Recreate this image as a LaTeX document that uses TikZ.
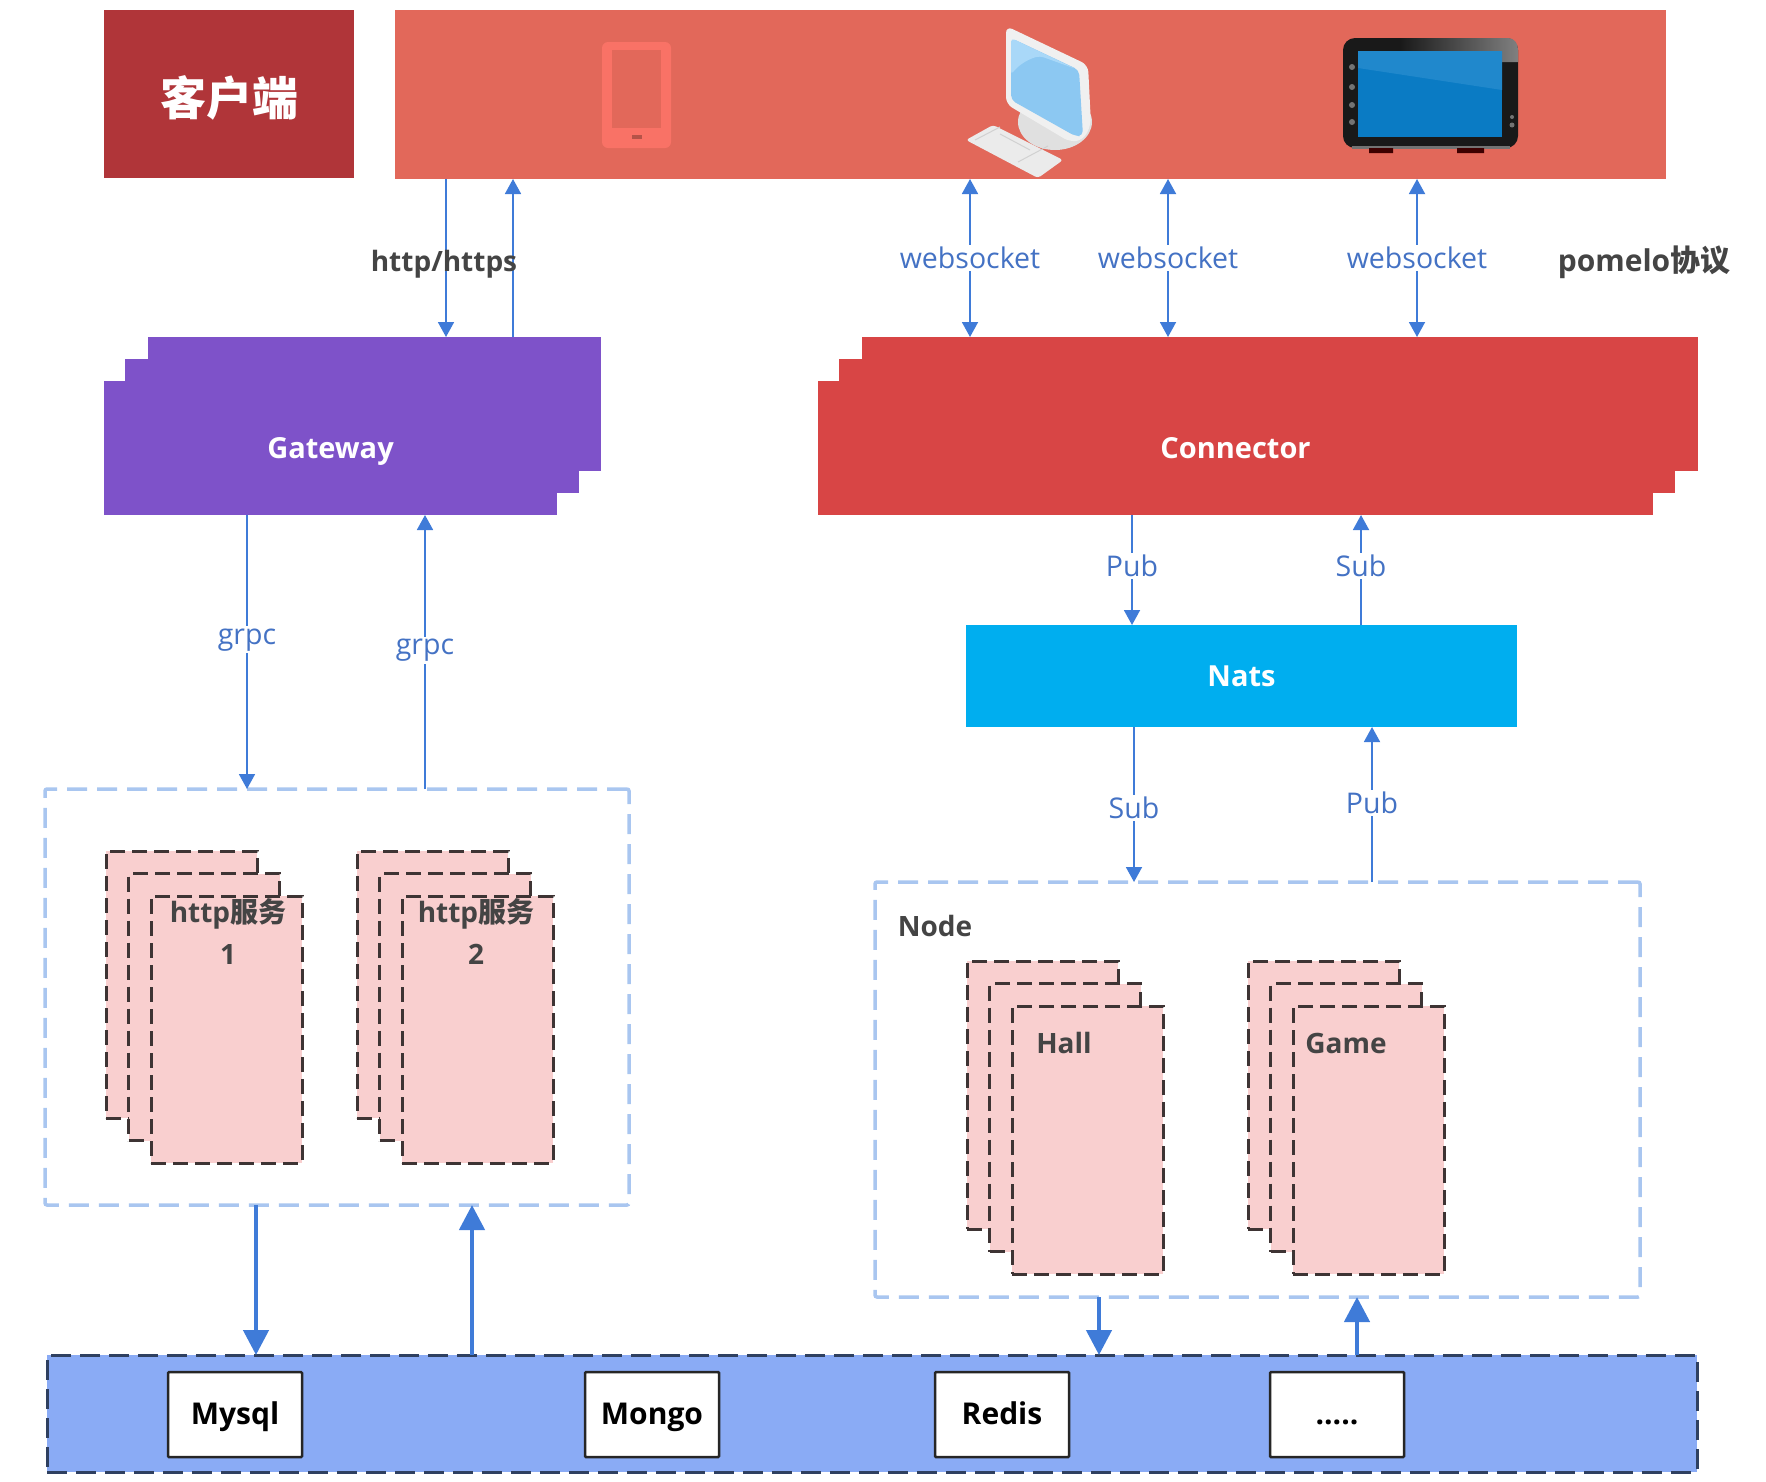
\documentclass[tikz,border=0pt]{standalone}
\usepackage{fontspec}
\setmainfont{Open Sans}
\newfontfamily\cjkf{Noto Sans CJK SC}
\usetikzlibrary{arrows.meta,calc,shadings}
\definecolor{clientc}{HTML}{B03539}
\definecolor{bandc}{HTML}{E2685A}
\definecolor{phonec}{HTML}{F97266}
\definecolor{gwc}{HTML}{7E52C9}
\definecolor{connc}{HTML}{D84545}
\definecolor{natsc}{HTML}{00AEEF}
\definecolor{pinkc}{HTML}{F9CFCF}
\definecolor{dashblue}{HTML}{A9C6F0}
\definecolor{arrowc}{HTML}{3F7BD8}
\definecolor{dbc}{HTML}{8AABF5}
\definecolor{dbline}{HTML}{2F4060}
\definecolor{darktxt}{HTML}{444444}
\definecolor{lblc}{HTML}{4472C4}
\definecolor{scrlight}{HTML}{A9D8F8}
\definecolor{scrmain}{HTML}{8CC8F2}
\definecolor{tabscr}{HTML}{0A7BC4}
\definecolor{tabhi}{HTML}{2088CC}
\tikzset{
 x=1pt,y=-1pt,
 box/.style={anchor=north west,inner sep=0pt,outer sep=0pt,draw=none},
 whitebold/.style={text=white,text height=20pt,text depth=0pt,font=\bfseries\fontsize{29}{32}\selectfont},
 thinarrow/.style={draw=arrowc,line width=1.8pt,>={Triangle[length=15pt,width=16pt]}},
 thickarrow/.style={draw=arrowc,line width=4.5pt,>={Triangle[length=25pt,width=25pt]}},
 lbl/.style={fill=white,inner sep=2pt,text=lblc,font=\fontsize{28.5}{32}\selectfont},
 darklbl/.style={inner sep=0pt,text=darktxt,text height=20pt,text depth=0pt,font=\bfseries\fontsize{28}{32}\selectfont},
 paper/.style={box,fill=pinkc,draw=black!75!pinkc,line width=3pt,dash pattern=on 15pt off 7pt},
 group/.style={box,draw=dashblue,line width=3.5pt,dash pattern=on 20pt off 10pt,rounded corners=2pt},
 dbitem/.style={box,fill=white,draw=black!85,line width=2.5pt,rounded corners=1pt,minimum width=134pt,minimum height=85pt,
   text=black,text height=20pt,text depth=0pt,font=\bfseries\fontsize{30}{32}\selectfont},
}
% solid stacked sheet: name, x, y, w, h, fill
\newcommand{\sheet}[6]{\node[box,fill=#6,minimum width=#4pt,minimum height=#5pt] (#1) at (#2,#3) {};}
% dashed paper stack: prefix, x, y, w, h
\newcommand{\paperstack}[5]{%
  \node[paper,minimum width=#4pt,minimum height=#5pt] (#1a) at (#2,#3) {};
  \node[paper,minimum width=#4pt,minimum height=#5pt] (#1b) at ({#2+22.5},{#3+22.5}) {};
  \node[paper,minimum width=#4pt,minimum height=#5pt] (#1c) at ({#2+45},{#3+45}) {};}
\begin{document}
\begin{tikzpicture}
\useasboundingbox (0,0) rectangle (1766,1481);
% client band
\node[box,fill=clientc,minimum width=250pt,minimum height=168pt,text=white,text height=42pt,text depth=0pt,font=\cjkf\bfseries\fontsize{46}{50}\selectfont] (client) at (104,10) {客户端};
\node[box,fill=bandc,minimum width=1271pt,minimum height=169pt] (band) at (395,10) {};
% phone icon
\fill[phonec,rounded corners=6pt] (602,42) rectangle (671,148);
\fill[bandc] (612,50) rectangle (661,128);
\fill[bandc!80!black] (632,135) rectangle (642,139);
% desktop icon
\fill[black!12] (1055,122) ellipse (37 and 28);
\fill[black!6,rounded corners=7pt] (1006,26) -- (1088,65) -- (1091,125) -- (1083,140) -- (1070,142) -- (1006,104) -- cycle;
\fill[scrmain,rounded corners=5pt] (1011,38) -- (1079,70) -- (1083,136) -- (1075,136) -- (1011,100) -- cycle;
\fill[scrlight,rounded corners=4pt] (1011,38) -- (1076,69) -- (1040,56) .. controls (1025,60) and (1016,68) .. (1011,75) -- cycle;
\fill[white!92!black,rounded corners=3pt] (966,140) -- (993,125) -- (1063,160) -- (1038,178) -- cycle;
\draw[black!18,line width=1pt] (975,140) -- (1000,127) (1018,162) -- (1048,146) (1030,150) -- (1000,134);
% tablet icon
\fill[black!90,rounded corners=12pt] (1343,38) rectangle (1518,148);
\shade[left color=black!90,right color=black!50] (1400,38) -- (1508,38) .. controls (1514,38) and (1518,43) .. (1518,50) -- (1518,62) -- (1400,62) -- cycle;
\fill[black!55] (1352,146) rectangle (1510,149);
\fill[black!65!red!70!black] (1369,148) rectangle (1393,153) (1457,148) rectangle (1484,153);
\fill[tabscr] (1358,51) rectangle (1502,137);
\fill[tabhi] (1358,51) -- (1502,51) -- (1502,90) -- (1358,68) -- cycle;
\fill[black!55] (1352,67) circle (3) (1352,87) circle (3) (1352,105) circle (3) (1352,122) circle (3) (1512,117) circle (2) (1512,125) circle (2.5);
% gateway stack
\sheet{gwa}{148}{337}{453}{134}{gwc}
\sheet{gwb}{125}{359}{454}{134}{gwc}
\node[box,fill=gwc,minimum width=453pt,minimum height=134pt,whitebold] (gw) at (104,381) {Gateway};
% connector stack
\sheet{cna}{862}{337}{836}{134}{connc}
\sheet{cnb}{839}{359}{836}{134}{connc}
\node[box,fill=connc,minimum width=835pt,minimum height=134pt,whitebold] (cn) at (818,381) {Connector};
% nats
\node[box,fill=natsc,minimum width=551pt,minimum height=102pt,whitebold] (nats) at (966,625) {Nats};
% left group
\node[group,minimum width=584pt,minimum height=416pt] (leftg) at (45,789) {};
\paperstack{ha}{106}{851}{151}{267}
\paperstack{hb}{357}{851}{151}{267}
\node[darklbl] (ha1) at (228,912) {http\cjkf 服务};
\node[darklbl] (ha2) at (228,954) {1};
\node[darklbl] (hb1) at (476,912) {http\cjkf 服务};
\node[darklbl] (hb2) at (476,954) {2};
% node group
\node[group,minimum width=765pt,minimum height=415pt] (nodeg) at (875,882) {};
\node[darklbl] (nodet) at (935,926) {Node};
\paperstack{ca}{967}{961}{151}{268}
\paperstack{cb}{1248}{961}{151}{268}
\node[darklbl] (hall) at (1064,1043) {Hall};
\node[darklbl] (game) at (1346,1043) {Game};
% database band
\node[box,fill=dbc,draw=dbline,line width=3pt,dash pattern=on 20pt off 9pt,minimum width=1650pt,minimum height=117pt] (db) at (47,1355) {};
\node[dbitem] (mysql) at (168,1372) {Mysql};
\node[dbitem] (mongo) at (585,1372) {Mongo};
\node[dbitem] (redis) at (935,1372) {Redis};
\node[dbitem] (more) at (1270,1372) {.....};
% x positions of the connectors
\coordinate (xh1) at (446,0); \coordinate (xh2) at (513,0);
\coordinate (xw1) at (970,0); \coordinate (xw2) at (1168,0); \coordinate (xw3) at (1417,0);
\coordinate (xg1) at (247,0); \coordinate (xg2) at (425,0);
\coordinate (xp1) at (1132,0); \coordinate (xp2) at (1361,0);
\coordinate (xs1) at (1134,0); \coordinate (xs2) at (1372,0);
\coordinate (xd1) at (256,0); \coordinate (xd2) at (472,0);
\coordinate (xd3) at (1099,0); \coordinate (xd4) at (1357,0);
% connectors
\draw[thinarrow,->] (band.south -| xh1) -- (gwa.north -| xh1);
\draw[thinarrow,->] (gwa.north -| xh2) -- (band.south -| xh2);
\foreach \n in {1,2,3}
  \draw[thinarrow,<->] (cna.north -| xw\n) -- node[lbl] (lw\n) {websocket} (band.south -| xw\n);
\draw[thinarrow,->] (gw.south -| xg1) -- node[lbl,pos=.455] (lg1) {grpc} (leftg.north -| xg1);
\draw[thinarrow,->] (leftg.north -| xg2) -- node[lbl,pos=.505] (lg2) {grpc} (gw.south -| xg2);
\draw[thinarrow,->] (cn.south -| xp1) -- node[lbl,pos=.46] (lp1) {Pub} (nats.north -| xp1);
\draw[thinarrow,->] (nats.north -| xp2) -- node[lbl,pos=.54] (lp2) {Sub} (cn.south -| xp2);
\draw[thinarrow,->] (nats.south -| xs1) -- node[lbl,pos=.52] (ls1) {Sub} (nodeg.north -| xs1);
\draw[thinarrow,->] (nodeg.north -| xs2) -- node[lbl,pos=.51] (ls2) {Pub} (nats.south -| xs2);
\draw[thickarrow,->] (leftg.south -| xd1) -- (db.north -| xd1);
\draw[thickarrow,->] (db.north -| xd2) -- (leftg.south -| xd2);
\draw[thickarrow,->] (nodeg.south -| xd3) -- (db.north -| xd3);
\draw[thickarrow,->] (db.north -| xd4) -- (nodeg.south -| xd4);
% floating labels
\node[darklbl] (httpl) at (444,261) {http/https};
\node[darklbl,font=\bfseries\fontsize{30}{32}\selectfont] (poml) at (1644,261) {pomelo\cjkf 协议};
\end{tikzpicture}
\end{document}
